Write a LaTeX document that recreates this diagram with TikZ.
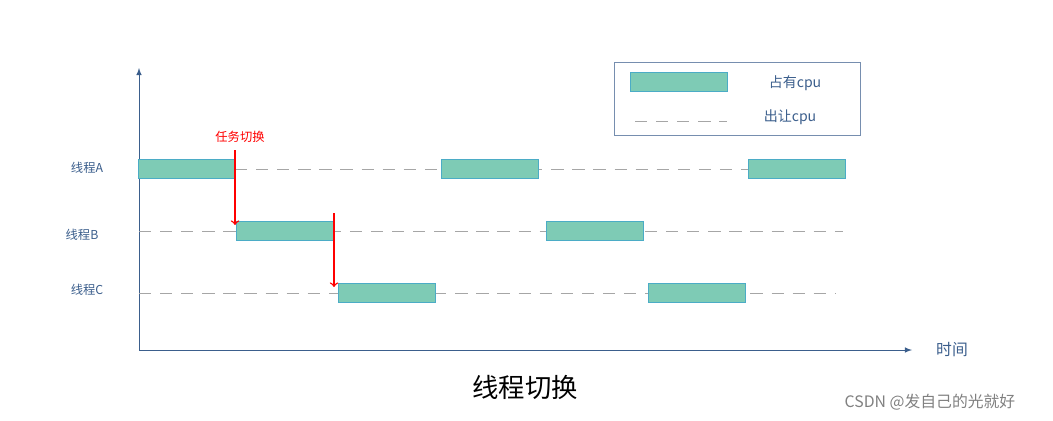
\documentclass[tikz,border=0pt]{standalone}
\usepackage{fontspec}
\setmainfont{Noto Sans CJK SC}
\usetikzlibrary{positioning}
\definecolor{occ}{HTML}{7ECBB5}
\definecolor{occline}{HTML}{4BACC6}
\definecolor{axis}{HTML}{3B5E8C}
\begin{document}
\begin{tikzpicture}[x=0.02cm,y=-0.02cm]

\tikzstyle{busy}=[rectangle, draw=occline, fill=occ, minimum width=1.94cm, minimum height=0.37cm, inner sep=0pt]
\tikzstyle{idle}=[dashed, draw=gray!70, dash pattern=on 7pt off 5pt]
\tikzstyle{arrow}=[-latex, draw=axis]
\tikzstyle{switch}=[->, red, thick]
\tikzstyle{lbl}=[font=\fontsize{7}{8}\selectfont, text=axis]

\useasboundingbox (0,0) rectangle (1053,420);

% axes
\coordinate (O) at (139,350);
\coordinate (ytop) at (139,68);
\coordinate (xend) at (912,350);
\draw [arrow] (O) -- (ytop);
\draw [arrow] (O) -- (xend);
\node (time) [lbl, font=\small] at (952,350) {时间};

% rows
\node (ta) [lbl] at (87,168) {线程A};
\node (tb) [lbl] at (82,235) {线程B};
\node (tc) [lbl] at (87,290) {线程C};

\coordinate (aend) at (846,169);
\coordinate (bstart) at (139,231);
\coordinate (bend) at (843,231);
\coordinate (cstart) at (139,293);
\coordinate (cend) at (835,293);
\draw [idle] (235,169) -- (aend);
\draw [idle] (bstart) -- (bend);
\draw [idle] (cstart) -- (cend);

\node (a1) [busy] at (187,169) {};
\node (a2) [busy] at (490,169) {};
\node (a3) [busy] at (797,169) {};
\node (b1) [busy] at (285,231) {};
\node (b2) [busy] at (595,231) {};
\node (c1) [busy] at (387,293) {};
\node (c2) [busy] at (697,293) {};

% switches
\node (sw) [red, font=\fontsize{7}{8}\selectfont] at (240,137) {任务切换};
\coordinate (s1) at (235,150);
\coordinate (s2) at (334,213);
\draw [switch] (s1) -- ([yshift=-2pt]s1 |- b1.north);
\draw [switch] (s2) -- ([yshift=-2pt]s2 |- c1.north);

% legend
\node (leg) [draw=axis!70, minimum width=4.92cm, minimum height=1.46cm] at (737,98.5) {};
\node (lbox) [busy] at (679,82) {};
\node (locc) [lbl, font=\footnotesize] at (795,83) {占有cpu};
\coordinate (ld1) at (635,121);
\coordinate (ld2) at (727,121);
\draw [idle] (ld1) -- (ld2);
\node (lrel) [lbl, font=\footnotesize] at (790,117) {出让cpu};

\node (title) [font=\fontsize{15}{18}\selectfont] at (525,387) {线程切换};
\node (mark) [gray, font=\small] at (930,402) {CSDN @发自己的光就好};

\end{tikzpicture}
\end{document}
